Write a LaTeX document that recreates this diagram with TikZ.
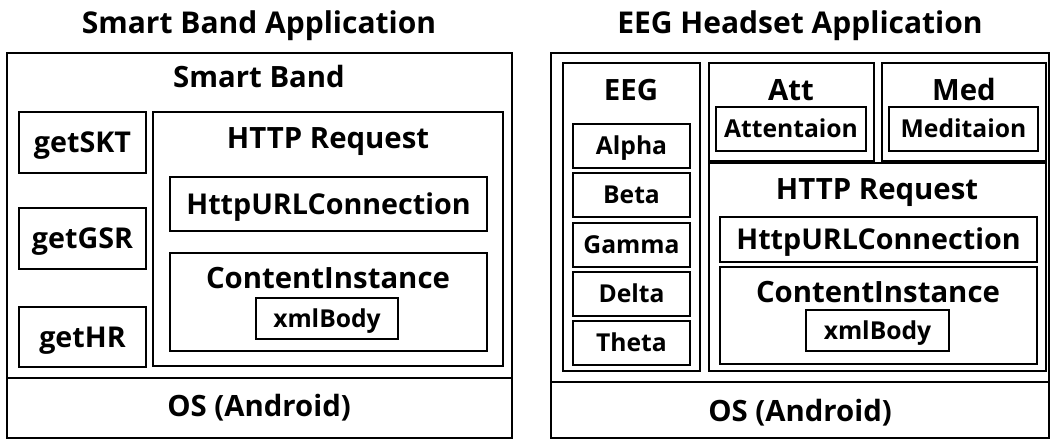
\documentclass[tikz,border=0pt]{standalone}
\usepackage{fontspec}
\setmainfont{Open Sans}
\usetikzlibrary{positioning, fit}
\tikzset{
    frame/.style={
        rectangle,
        draw=black,
        line width=1.3pt,
        inner sep=0pt
    },
    cell/.style={
        frame,
        line width=1.2pt
    },
    boxtext/.style={
        inner sep=0pt,
        text height=15.3pt,
        text depth=0pt,
        font=\bfseries\fontsize{21.5}{24}\selectfont
    },
    celltext/.style={
        inner sep=0pt,
        text height=13.2pt,
        text depth=0pt,
        font=\bfseries\fontsize{18.5}{21}\selectfont
    },
    caption/.style={
        anchor=base,
        inner sep=0pt,
        font=\bfseries\fontsize{22}{25}\selectfont
    }
}

\begin{document}
\begin{tikzpicture}[x=0.75pt, y=-0.75pt]
\useasboundingbox (0,0) rectangle (1057,439);

% Smart band side
\node[caption, font=\bfseries\fontsize{22.5}{25}\selectfont] (bandtitle) at (259,33) {Smart Band Application};
\node[frame, fit={(7,53) (512,378)}] (bandapp) {};
\node[frame, fit={(7,378) (512,438)}] (bandos) {};
\node[caption] at (259,416) {OS (Android)};
\node[caption] (bandname) at (259,87) {Smart Band};

\node[frame, fit={(19,112) (146,173)}, label={[boxtext]center:getSKT}] (skt) {};
\node[frame, fit={(19,208) (146,269)}, label={[boxtext]center:getGSR}] (gsr) {};
\node[frame, fit={(19,307) (146,367)}, label={[boxtext]center:getHR}] (hr) {};

\node[frame, fit={(153,112) (503,366)}] (bandhttp) {};
\node[caption] at (328,148) {HTTP Request};
\node[frame, fit={(170,177) (487,231)}, label={[boxtext]center:HttpURLConnection}] (bandconn) {};
\node[frame, fit={(170,253) (487,351)}] (bandci) {};
\node[caption] at (328,288) {ContentInstance};
\node[cell, fit={(256,298) (398,339)}, label={[celltext]center:xmlBody}] (bandxml) {};

% EEG headset side
\node[caption, font=\bfseries\fontsize{22.5}{25}\selectfont] (eegtitle) at (800,33) {EEG Headset Application};
\node[frame, fit={(551,53) (1049,382)}] (eegapp) {};
\node[frame, fit={(551,382) (1049,438)}] (eegos) {};
\node[caption] at (800,421) {OS (Android)};

\node[frame, fit={(563,63) (700,371)}] (eeg) {};
\node[caption] at (631,100) {EEG};
\node[cell, fit={(573,124) (690,168)}, label={[celltext]center:Alpha}] (alpha) {};
\node[cell, fit={(573,173) (690,217)}, label={[celltext]center:Beta}] (beta) {};
\node[cell, fit={(573,223) (690,267)}, label={[celltext]center:Gamma}] (gamma) {};
\node[cell, fit={(573,272) (690,316)}, label={[celltext]center:Delta}] (delta) {};
\node[cell, fit={(573,321) (690,365)}, label={[celltext]center:Theta}] (theta) {};

\node[frame, fit={(709,63) (874,161)}] (att) {};
\node[caption] at (791,100) {Att};
\node[cell, fit={(716,107) (866,151)}, label={[celltext]center:Attentaion}] (attval) {};

\node[frame, fit={(882,63) (1046,161)}] (med) {};
\node[caption] at (964,100) {Med};
\node[cell, fit={(889,107) (1038,151)}, label={[celltext]center:Meditaion}] (medval) {};

\node[frame, fit={(709,163) (1046,371)}] (eeghttp) {};
\node[caption] at (877,199) {HTTP Request};
\node[frame, fit={(720,217) (1037,262)}, label={[boxtext]center:HttpURLConnection}] (eegconn) {};
\node[frame, fit={(720,267) (1037,364)}] (eegci) {};
\node[caption] at (878,302) {ContentInstance};
\node[cell, fit={(806,310) (949,351)}, label={[celltext]center:xmlBody}] (eegxml) {};

\end{tikzpicture}
\end{document}
